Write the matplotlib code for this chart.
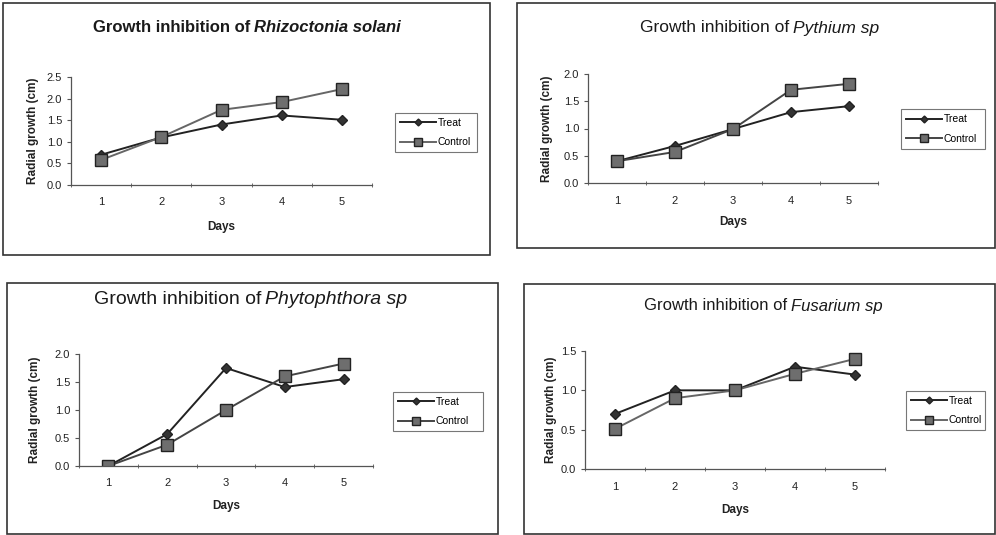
import numpy as np
import matplotlib
matplotlib.use('Agg')
import matplotlib.pyplot as plt
from matplotlib.patches import Rectangle

plt.rcParams['font.family'] = ['Liberation Sans', 'DejaVu Sans']

days = [1, 2, 3, 4, 5]
series_names = ['Treat', 'Control']

# Rhizoctonia solani
rhizo_treat = [0.70, 1.10, 1.40, 1.61, 1.51]
rhizo_control = [0.58, 1.11, 1.74, 1.92, 2.22]
# Pythium sp
pyth_treat = [0.40, 0.68, 0.99, 1.30, 1.41]
pyth_control = [0.40, 0.57, 0.99, 1.71, 1.82]
# Phytophthora sp
phyto_treat = [0.0, 0.57, 1.75, 1.41, 1.55]
phyto_control = [0.0, 0.38, 1.00, 1.60, 1.83]
# Fusarium sp
fus_treat = [0.70, 1.00, 1.00, 1.30, 1.20]
fus_control = [0.51, 0.90, 1.00, 1.21, 1.40]

W, H = 996, 535
fig = plt.figure(figsize=(W / 100, H / 100), dpi=100)


def fx(px):
    return px / W


def fy(py):
    return 1 - py / H


def box(x0, y0, x1, y1):
    fig.patches.append(Rectangle((fx(x0), fy(y1)), fx(x1) - fx(x0), fy(y0) - fy(y1),
                                 transform=fig.transFigure, fill=False,
                                 edgecolor='#333333', linewidth=1.2))


def title(xsplit, y, plain, species, size, weight='normal'):
    fig.text(fx(xsplit), fy(y), plain, ha='right', va='center', fontsize=size,
             fontweight=weight, color='#1a1a1a')
    fig.text(fx(xsplit + 4), fy(y), species, ha='left', va='center', fontsize=size,
             fontweight=weight, style='italic', color='#1a1a1a')


def panel(rect_px, treat, control, ymax, leg_px, ylab_x, xlab_y, ctrl_color='#444444'):
    x0, y0, x1, y1 = rect_px
    ax = fig.add_axes([fx(x0), fy(y1), fx(x1) - fx(x0), fy(y0) - fy(y1)])
    ax.plot(days, treat, color='#222222', linewidth=1.4, marker='D', markersize=5,
            markerfacecolor='#333333', markeredgecolor='#222222', label=series_names[0])
    ax.plot(days, control, color=ctrl_color, linewidth=1.4, marker='s', markersize=9,
            markerfacecolor='#6e6e6e', markeredgecolor='#222222', label=series_names[1])
    ax.set_xlim(0.5, 5.5)
    ax.set_ylim(0, ymax)
    ax.set_yticks(np.arange(0, ymax + 0.01, 0.5))
    ax.set_yticklabels(['%.1f' % v for v in np.arange(0, ymax + 0.01, 0.5)])
    ax.set_xticks(days)
    ax.set_xticks(np.arange(0.5, 6, 1), minor=True)
    ax.tick_params(axis='x', which='major', length=0, labelsize=8, pad=9, colors='#222222')
    ax.tick_params(axis='x', which='minor', length=3, direction='inout', color='#555555')
    ax.tick_params(axis='y', length=3, labelsize=8, colors='#222222', color='#555555')
    for s in ['top', 'right']:
        ax.spines[s].set_visible(False)
    for s in ['left', 'bottom']:
        ax.spines[s].set_color('#555555')
        ax.spines[s].set_linewidth(0.9)
    ax.patch.set_visible(False)
    # axis labels placed in figure pixels
    fig.text(fx(ylab_x), fy((y0 + y1) / 2), 'Radial growth (cm)', rotation=90,
             ha='center', va='center', fontsize=8.5, fontweight='bold', color='#222222')
    fig.text(fx((x0 + x1) / 2), fy(xlab_y), 'Days', ha='center', va='center',
             fontsize=8.5, fontweight='bold', color='#222222')
    lx0, ly0, lx1, ly1 = leg_px
    leg = ax.legend(loc='center left',
                    bbox_to_anchor=(fx(lx0), fy(ly1), fx(lx1) - fx(lx0), fy(ly0) - fy(ly1)),
                    bbox_transform=fig.transFigure, mode='expand', fontsize=7.5,
                    frameon=True, fancybox=False, borderpad=0.5, labelspacing=0.9,
                    handlelength=3.4, handletextpad=0.2, markerscale=0.7)
    leg.get_frame().set_edgecolor('#555555')
    leg.get_frame().set_linewidth(0.8)
    return ax


# panel frames
box(3, 3, 490, 255)
box(517, 3, 995, 248)
box(7, 283, 498, 534)
box(524, 284, 995, 534)

title(250, 28, 'Growth inhibition of', 'Rhizoctonia solani', 12, 'bold')
title(789, 28, 'Growth inhibition of', 'Pythium sp', 12.5)
title(261, 299, 'Growth inhibition of', 'Phytophthora sp', 14)
title(787, 306, 'Growth inhibition of', 'Fusarium sp', 12)

panel((71, 77, 372, 185), rhizo_treat, rhizo_control, 2.5, (390, 110, 482, 155), 33, 227,
      ctrl_color='#666666')
panel((588, 74, 878, 183), pyth_treat, pyth_control, 2.0, (896, 108, 990, 150), 547, 222)
panel((79, 354, 373, 466), phyto_treat, phyto_control, 2.0, (388, 390, 488, 433), 35, 506)
panel((585, 351, 885, 469), fus_treat, fus_control, 1.5, (901, 391, 990, 430), 551, 510,
      ctrl_color='#666666')

fig.savefig('out.png', dpi=100)
